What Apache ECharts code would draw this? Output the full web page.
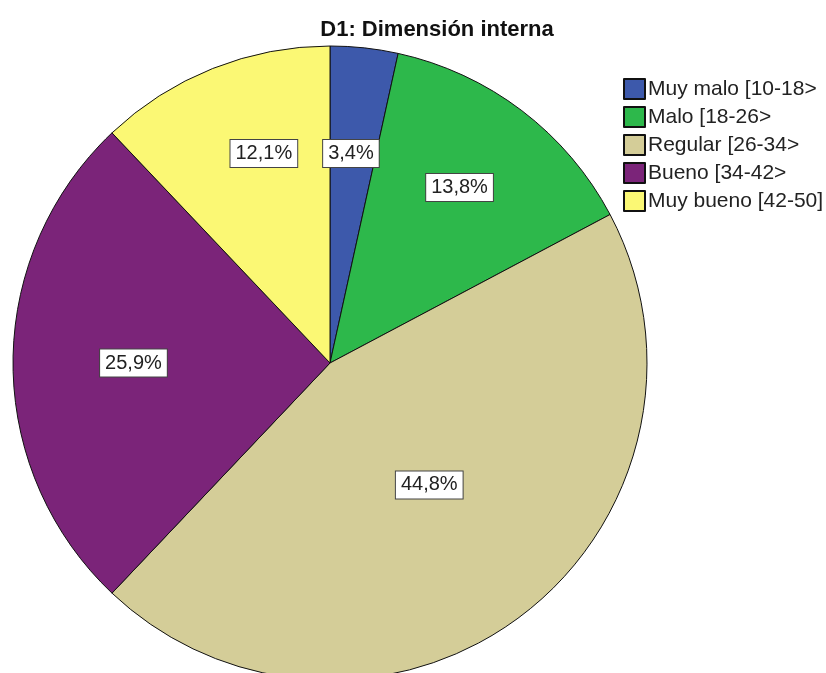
<!DOCTYPE html>
<html>
<head>
<meta charset="utf-8">
<script src="https://cdn.jsdelivr.net/npm/echarts@6/dist/echarts.min.js"></script>
<style>
  html, body { margin: 0; padding: 0; background: #fff; }
  #chart { width: 826px; height: 673px; }
</style>
</head>
<body>
<div id="chart"></div>
<script>
// categories and counts (n = 58)
const categories = ['Muy malo [10-18>', 'Malo [18-26>', 'Regular [26-34>', 'Bueno [34-42>', 'Muy bueno [42-50]']
const counts = [2, 8, 26, 15, 7]
const colors = ['#3d59ab', '#2db84b', '#d4cd98', '#7b2479', '#fbf874']

// label placement: share of the radius, and nudge in degrees off the slice middle
const labelRatio = [0.664, 0.688, 0.496, 0.62, 0.693]
const labelShift = [-0.5, -0.8, -1.9, 0, 4.2]

const R = 317
const CX = 330, CY = 363
const total = counts.reduce((a, b) => a + b, 0)
const midAngles = []
let acc = 0
counts.forEach((v, i) => {
    midAngles.push((acc + v / 2) / total * 2 * Math.PI + labelShift[i] * Math.PI / 180)
    acc += v
})

const chart = echarts.init(document.getElementById('chart'))
chart.setOption({
    animation: false,
    title: {
        text: 'D1: Dimensión interna',
        left: 432,
        textAlign: 'center',
        top: 14,
        textStyle: { fontFamily: 'Liberation Sans', fontWeight: 'bold', fontSize: 22, color: '#111' }
    },
    legend: {
        orient: 'vertical',
        left: 623,
        top: 78,
        padding: 0,
        itemWidth: 21,
        itemHeight: 20,
        itemGap: 6,
        icon: 'rect',
        data: categories,
        textStyle: { fontFamily: 'Liberation Sans', fontSize: 21, color: '#222', lineHeight: 20, padding: [0, 0, 0, -2] }
    },
    color: colors,
    series: [{
        type: 'pie',
        center: [CX, CY],
        radius: R,
        startAngle: 90,
        clockwise: true,
        percentPrecision: 1,
        itemStyle: { borderColor: '#111', borderWidth: 1 },
        label: {
            position: 'inside',
            formatter: p => p.percent.toFixed(1).replace('.', ',') + '%',
            fontFamily: 'Liberation Sans',
            fontSize: 20,
            color: '#222',
            backgroundColor: '#fff',
            borderColor: '#444',
            borderWidth: 1,
            padding: [4, 5, 3, 5]
        },
        labelLine: { show: false },
        labelLayout: p => {
            const k = labelRatio[p.dataIndex]
            const a = midAngles[p.dataIndex]
            return { x: CX + k * R * Math.sin(a), y: CY - k * R * Math.cos(a), align: 'center', verticalAlign: 'middle' }
        },
        emphasis: { disabled: true },
        data: categories.map((name, i) => ({ name, value: counts[i] }))
    }]
})
</script>
</body>
</html>
